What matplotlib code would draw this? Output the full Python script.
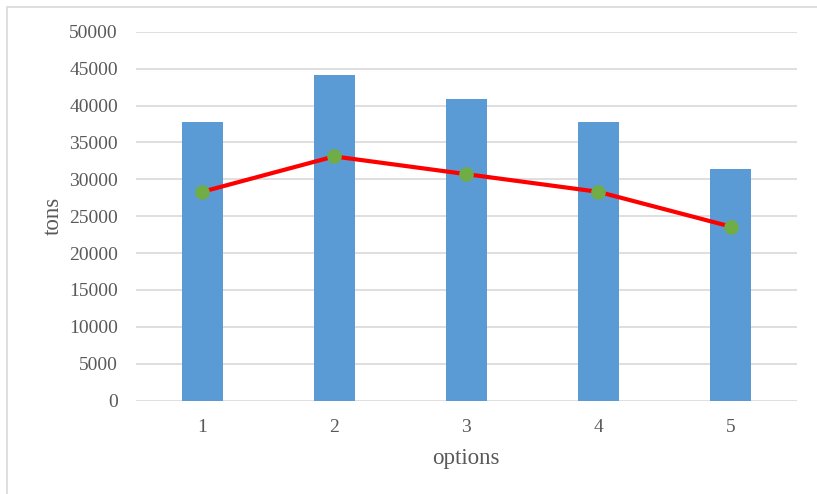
import matplotlib
matplotlib.use('Agg')
import matplotlib.pyplot as plt
from matplotlib.patches import Rectangle

# values
options = ['1', '2', '3', '4', '5']
bar_tons = [37800, 44100, 40900, 37800, 31400]
line_tons = [28300, 33100, 30700, 28300, 23600]
y_ticks = [0, 5000, 10000, 15000, 20000, 25000, 30000, 35000, 40000, 45000, 50000]

plt.rcParams['font.family'] = ['Liberation Serif', 'DejaVu Serif']

fig = plt.figure(figsize=(8.17, 4.94), dpi=100)
ax = fig.add_axes([0.1665, 0.1889, 0.8085, 0.7469])

# thin frame round the chart area, like the spreadsheet export
fig.patches.append(Rectangle((7 / 817, -0.1), 1.2, (494 - 7) / 494 + 0.1,
                             transform=fig.transFigure, fill=False,
                             edgecolor='#d9d9d9', linewidth=1.2))

x = list(range(len(options)))
ax.bar(x, bar_tons, width=0.31, color='#5b9bd5', zorder=2)
ax.plot(x, line_tons, color='#ff0000', linewidth=3, marker='o',
        markersize=9.5, markerfacecolor='#70ad47', markeredgecolor='#70ad47', zorder=3)

ax.set_xlim(-0.5, len(options) - 0.5)
ax.set_ylim(0, 50000)
ax.set_yticks(y_ticks)
ax.set_xticks(x)
ax.set_xticklabels(options)
ax.yaxis.grid(True, color='#d9d9d9', linewidth=1.2, zorder=0)
ax.set_axisbelow(True)
for s in ax.spines.values():
    s.set_visible(False)
ax.tick_params(length=0, labelsize=14, labelcolor='#595959')
ax.tick_params(axis='y', pad=13)
ax.tick_params(axis='x', pad=13)

ax.set_xlabel('options', fontsize=16.5, color='#595959', labelpad=9)
ax.set_ylabel('tons', fontsize=16.5, color='#595959', labelpad=4)

fig.savefig('out.png', dpi=100)
